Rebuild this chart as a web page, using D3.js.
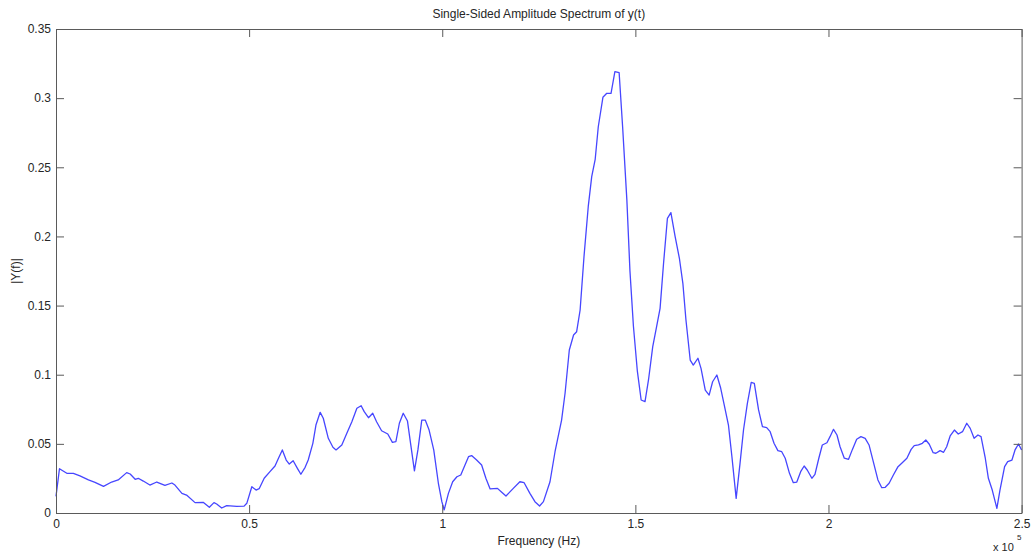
<!DOCTYPE html>
<html>
<head>
<meta charset="utf-8">
<script src="https://cdn.jsdelivr.net/npm/d3@7"></script>
<style>
  body { margin: 0; background: #fff; }
  svg { display: block; font-family: "Liberation Sans", Arial, sans-serif; }
  .axis text { fill: #262626; font-size: 12px; }
  .axis path, .axis line { stroke: #5a5a5a; }
</style>
</head>
<body>
<svg width="1034" height="559"></svg>
<script>
// frequency in units of 1e5 Hz
const freq = [0, 0.009, 0.028, 0.045, 0.062, 0.084, 0.101, 0.123, 0.144, 0.161,
    0.183, 0.192, 0.205, 0.213, 0.226, 0.243, 0.261, 0.282, 0.300, 0.308,
    0.326, 0.338, 0.360, 0.381, 0.397, 0.409, 0.416, 0.429, 0.442, 0.468,
    0.487, 0.494, 0.507, 0.518, 0.526, 0.539, 0.554, 0.567, 0.576, 0.586,
    0.596, 0.604, 0.614, 0.625, 0.634, 0.645, 0.653, 0.665, 0.673, 0.684,
    0.692, 0.705, 0.717, 0.725, 0.740, 0.753, 0.766, 0.779, 0.790, 0.798,
    0.809, 0.820, 0.830, 0.843, 0.859, 0.871, 0.880, 0.889, 0.899, 0.910,
    0.918, 0.928, 0.937, 0.947, 0.956, 0.966, 0.978, 0.990, 0.999, 1.005,
    1.016, 1.027, 1.038, 1.048, 1.057, 1.068, 1.076, 1.089, 1.102, 1.113,
    1.124, 1.143, 1.154, 1.165, 1.184, 1.201, 1.212, 1.227, 1.240, 1.252,
    1.262, 1.279, 1.292, 1.309, 1.318, 1.329, 1.340, 1.348, 1.357, 1.367,
    1.378, 1.387, 1.396, 1.404, 1.416, 1.426, 1.437, 1.447, 1.458, 1.467,
    1.478, 1.486, 1.495, 1.505, 1.515, 1.525, 1.534, 1.545, 1.555, 1.564,
    1.573, 1.583, 1.592, 1.603, 1.614, 1.623, 1.631, 1.642, 1.650, 1.662,
    1.670, 1.681, 1.691, 1.700, 1.711, 1.721, 1.731, 1.741, 1.750, 1.761,
    1.771, 1.780, 1.790, 1.800, 1.808, 1.819, 1.829, 1.840, 1.849, 1.859,
    1.869, 1.879, 1.888, 1.899, 1.909, 1.918, 1.928, 1.937, 1.945, 1.957,
    1.965, 1.975, 1.984, 1.996, 2.004, 2.013, 2.022, 2.030, 2.041, 2.052,
    2.062, 2.073, 2.084, 2.095, 2.105, 2.116, 2.128, 2.138, 2.147, 2.157,
    2.168, 2.180, 2.191, 2.203, 2.214, 2.222, 2.233, 2.243, 2.252, 2.261,
    2.271, 2.278, 2.289, 2.298, 2.306, 2.315, 2.326, 2.336, 2.347, 2.358,
    2.367, 2.377, 2.387, 2.395, 2.406, 2.414, 2.424, 2.436, 2.444, 2.456,
    2.464, 2.475, 2.483, 2.492, 2.500]

const amplitude = [0.012, 0.032, 0.0287, 0.0287, 0.0268, 0.0239, 0.0222, 0.0193, 0.0224, 0.0239,
    0.0292, 0.0282, 0.0244, 0.0251, 0.0231, 0.0202, 0.0224, 0.0200, 0.0217, 0.0202,
    0.0142, 0.0130, 0.0075, 0.0077, 0.0041, 0.0075, 0.0065, 0.0036, 0.0053, 0.0048,
    0.0050, 0.0070, 0.0190, 0.0166, 0.0176, 0.0251, 0.0299, 0.0340, 0.0396, 0.0456,
    0.0383, 0.0354, 0.0378, 0.0323, 0.0280, 0.0330, 0.0383, 0.0504, 0.0636, 0.0728,
    0.0685, 0.0540, 0.0475, 0.0456, 0.0492, 0.0576, 0.0660, 0.0757, 0.0776, 0.0733,
    0.0689, 0.0721, 0.0660, 0.0595, 0.0571, 0.0511, 0.0516, 0.0649, 0.0721, 0.0665,
    0.0504, 0.0304, 0.0456, 0.0672, 0.0672, 0.0600, 0.0456, 0.0215, 0.0082, 0.0022,
    0.0142, 0.0226, 0.0262, 0.0275, 0.0335, 0.0407, 0.0415, 0.0383, 0.0347, 0.0251,
    0.0174, 0.0178, 0.0150, 0.0123, 0.0178, 0.0226, 0.0219, 0.0142, 0.0082, 0.0051,
    0.0082, 0.0226, 0.0443, 0.0672, 0.0866, 0.1179, 0.1287, 0.1311, 0.1468, 0.1853,
    0.2215, 0.2432, 0.2558, 0.2793, 0.3006, 0.3035, 0.3035, 0.3191, 0.3184, 0.2793,
    0.2263, 0.1750, 0.1350, 0.1030, 0.0817, 0.0805, 0.0962, 0.1203, 0.1347, 0.1480,
    0.1806, 0.2131, 0.2172, 0.1998, 0.1842, 0.1661, 0.1396, 0.1106, 0.1070, 0.1119,
    0.1046, 0.0889, 0.0853, 0.0949, 0.0998, 0.0902, 0.0769, 0.0636, 0.0407, 0.0106,
    0.0359, 0.0600, 0.0793, 0.0945, 0.0938, 0.0745, 0.0624, 0.0617, 0.0588, 0.0504,
    0.0451, 0.0443, 0.0396, 0.0287, 0.0219, 0.0224, 0.0299, 0.0340, 0.0311, 0.0251,
    0.0280, 0.0396, 0.0492, 0.0508, 0.0552, 0.0605, 0.0564, 0.0479, 0.0396, 0.0388,
    0.0460, 0.0533, 0.0552, 0.0540, 0.0492, 0.0371, 0.0239, 0.0183, 0.0186, 0.0215,
    0.0275, 0.0335, 0.0364, 0.0396, 0.0460, 0.0487, 0.0492, 0.0504, 0.0528, 0.0497,
    0.0436, 0.0432, 0.0451, 0.0439, 0.0479, 0.0557, 0.0600, 0.0571, 0.0588, 0.0649,
    0.0612, 0.0540, 0.0564, 0.0552, 0.0396, 0.0251, 0.0166, 0.0034, 0.0166, 0.0335,
    0.0371, 0.0383, 0.0456, 0.0499, 0.0456]

const xTicks = [0, 0.5, 1, 1.5, 2, 2.5]
const yTicks = [0, 0.05, 0.1, 0.15, 0.2, 0.25, 0.3, 0.35]

const svg = d3.select('svg');
const plotLeft = 56, plotRight = 1021.6, plotTop = 29, plotBottom = 513;

const x = d3.scaleLinear().domain([0, 2.5e5]).range([plotLeft, plotRight]);
const y = d3.scaleLinear().domain([0, 0.35]).range([plotBottom, plotTop]);

const points = freq.map((f, i) => ({ f: f * 1e5, a: amplitude[i] }));

// curve first, box drawn on top
svg.append('path')
    .datum(points)
    .attr('fill', 'none')
    .attr('stroke', '#4646ff')
    .attr('stroke-width', 1.3)
    .attr('stroke-linejoin', 'round')
    .attr('d', d3.line().x(d => x(d.f)).y(d => y(d.a)));

svg.append('g').attr('class', 'axis')
    .attr('transform', `translate(0,${plotBottom})`)
    .call(d3.axisBottom(x).tickValues(xTicks.map(t => t * 1e5))
        .tickFormat(d => String(d / 1e5)).tickSize(-8).tickSizeOuter(0).tickPadding(6));

svg.append('g').attr('class', 'axis')
    .attr('transform', `translate(0,${plotTop})`)
    .call(d3.axisTop(x).tickValues(xTicks.map(t => t * 1e5))
        .tickFormat('').tickSize(-8).tickSizeOuter(0));

svg.append('g').attr('class', 'axis')
    .attr('transform', `translate(${plotLeft},0)`)
    .call(d3.axisLeft(y).tickValues(yTicks)
        .tickFormat(d => String(+d.toFixed(2))).tickSize(-8).tickSizeOuter(0).tickPadding(5));

svg.append('g').attr('class', 'axis')
    .attr('transform', `translate(${plotRight},0)`)
    .call(d3.axisRight(y).tickValues(yTicks)
        .tickFormat('').tickSize(-8).tickSizeOuter(0));

svg.selectAll('.axis').attr('font-family', null).attr('font-size', null);

svg.append('text')
    .attr('x', (plotLeft + plotRight) / 2)
    .attr('y', 18)
    .attr('text-anchor', 'middle')
    .attr('font-size', 12)
    .attr('fill', '#262626')
    .text('Single-Sided Amplitude Spectrum of y(t)');

svg.append('text')
    .attr('x', (plotLeft + plotRight) / 2)
    .attr('y', 545)
    .attr('text-anchor', 'middle')
    .attr('font-size', 12)
    .attr('fill', '#262626')
    .text('Frequency (Hz)');

svg.append('text')
    .attr('transform', `translate(20,${(plotTop + plotBottom) / 2}) rotate(-90)`)
    .attr('text-anchor', 'middle')
    .attr('font-size', 12)
    .attr('fill', '#262626')
    .text('|Y(f)|');

svg.append('text')
    .attr('x', 993)
    .attr('y', 551)
    .attr('font-size', 11)
    .attr('fill', '#262626')
    .text('x 10');

svg.append('text')
    .attr('x', 1017)
    .attr('y', 540)
    .attr('font-size', 8)
    .attr('fill', '#262626')
    .text('5');
</script>
</body>
</html>
